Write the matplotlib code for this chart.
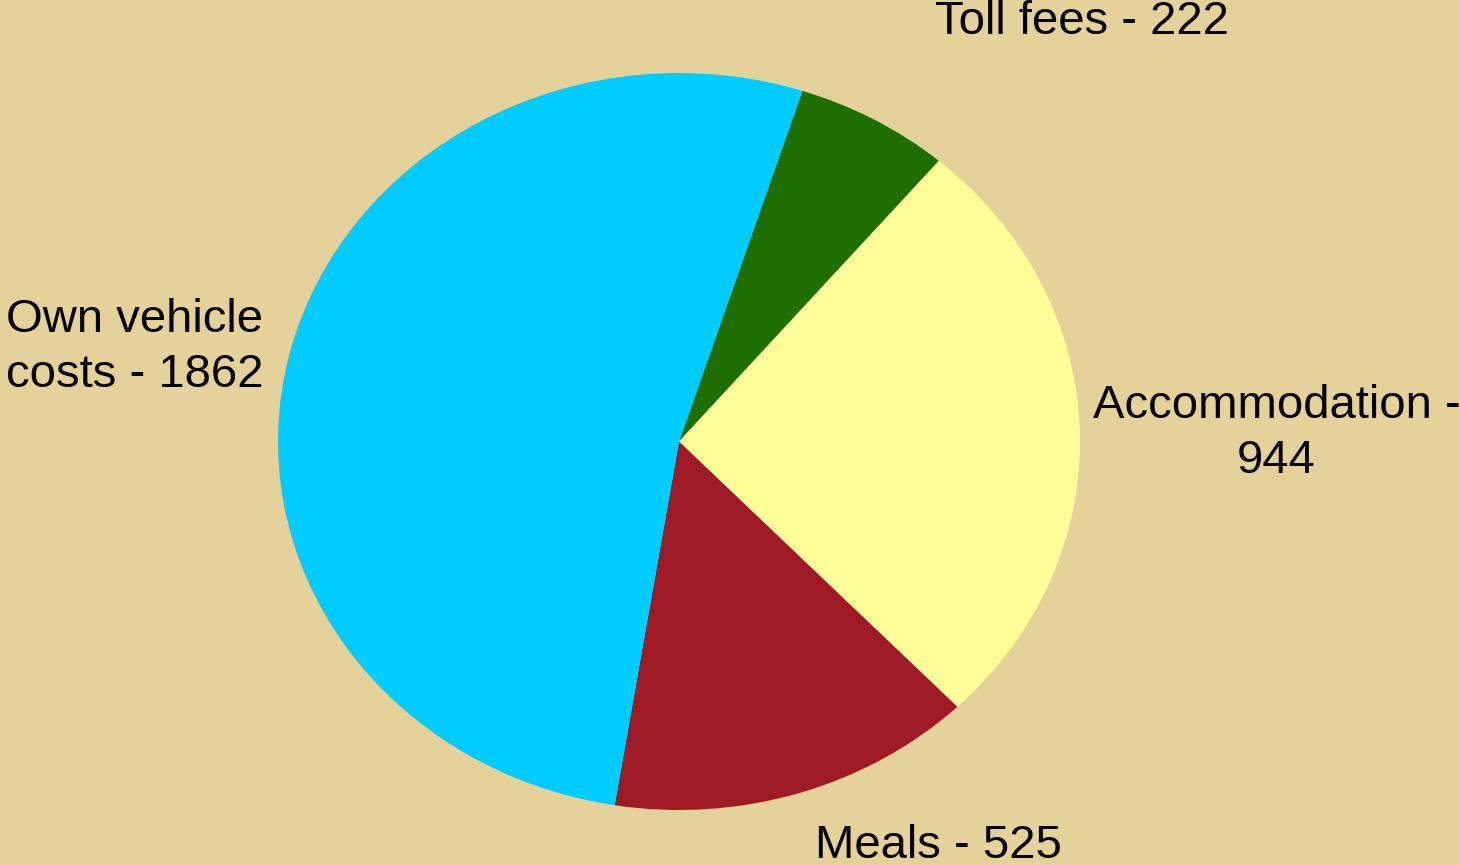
import matplotlib.pyplot as plt

# Travel cost breakdown
categories = ['Toll fees', 'Accommodation', 'Meals', 'Own vehicle costs']
values = [222, 944, 525, 1862]
label_texts = ['Toll fees - 222', 'Accommodation -\n944', 'Meals - 525', 'Own vehicle\ncosts - 1862']
colors = ['#1F6E00', '#FFFF99', '#9E1B25', '#00CCFF']

# label anchor points (in pie radius units)
label_pos = [(1.005, 1.138), (1.49, 0.022), (0.646, -1.098), (-1.357, 0.256)]

bg = '#E5D19A'
plt.rcParams['font.family'] = ['Liberation Sans', 'DejaVu Sans']

fig = plt.figure(figsize=(14.6, 8.65), dpi=100, facecolor=bg)
ax = fig.add_axes([278/1460, 55/865, 802/1460, 737/865])
ax.set_facecolor(bg)

ax.pie(values, colors=colors, startangle=72.1, counterclock=False,
       wedgeprops=dict(linewidth=0))
ax.set_aspect('auto')
ax.set_xlim(-1, 1)
ax.set_ylim(-1, 1)
ax.axis('off')

for txt, (x, y) in zip(label_texts, label_pos):
    ax.text(x, y, txt, ha='center', va='center', fontsize=34,
            multialignment='center', linespacing=1.33, clip_on=False)

fig.savefig('out.png', dpi=100, facecolor=bg)
